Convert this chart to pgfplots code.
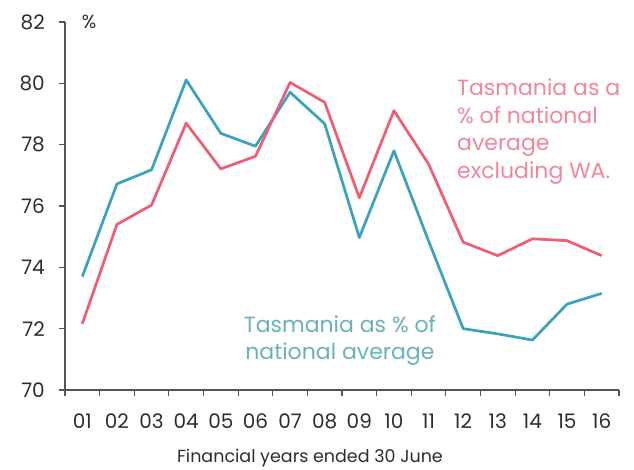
\documentclass[border=0pt]{standalone}
\usepackage{fontspec}
\setmainfont{Poppins}
\usepackage{pgfplots}
\pgfplotsset{compat=1.18}
\definecolor{tasred}{RGB}{240,92,115}
\definecolor{tasblue}{RGB}{58,162,190}
\definecolor{labred}{RGB}{240,135,155}
\definecolor{labblue}{RGB}{105,178,185}
\definecolor{axgray}{RGB}{85,85,85}
\definecolor{txtgray}{RGB}{45,45,45}
\pgfplotstableread{
x nat exwa
1 73.70 72.16
2 76.72 75.40
3 77.18 76.03
4 80.11 78.70
5 78.37 77.21
6 77.95 77.62
7 79.71 80.03
8 78.68 79.38
9 74.97 76.27
10 77.80 79.11
11 74.86 77.37
12 72.00 74.82
13 71.83 74.38
14 71.63 74.93
15 72.80 74.87
16 73.15 74.38
}\datatable
\begin{document}
\begin{tikzpicture}
\path[use as bounding box] (-65pt,-79pt) rectangle (569pt,390pt);
\begin{axis}[
  at={(0pt,0pt)}, anchor=south west,
  scale only axis,
  width=554pt, height=368pt,
  xmin=0.5, xmax=16.5,
  ymin=70, ymax=82,
  axis x line=bottom, axis y line=left,
  axis line style={-, axgray, line width=1.1pt},
  every tick/.style={axgray, line width=1.2pt},
  xtick pos=bottom, ytick pos=left,
  xtick align=outside, ytick align=outside,
  major tick length=6pt,
  xtick={0.5,1.5,...,16.5},
  xticklabels={},
  extra x ticks={1,2,...,16},
  extra x tick labels={01,02,03,04,05,06,07,08,09,10,11,12,13,14,15,16},
  extra x tick style={major tick length=0pt, xticklabel style={inner sep=0pt, yshift=-24pt}},
  ytick={70,72,...,82},
  /pgf/number format/assume math mode=true,
  ticklabel style={font=\fontsize{20}{24}\selectfont, text=txtgray},
  yticklabel style={inner sep=0pt, xshift=-14pt},
  xlabel={Financial years ended 30 June},
  xlabel style={font=\fontsize{17.5}{21}\selectfont, text=txtgray, inner sep=0pt, yshift=-14pt, xshift=-32pt},
  clip=false,
]
\addplot[tasblue, line width=2.7pt, line join=round] table[x=x, y=nat] {\datatable};
\addplot[tasred, line width=2.7pt, line join=round] table[x=x, y=exwa] {\datatable};
\node[anchor=west, inner sep=0pt, font=\fontsize{19}{22}\selectfont, text=txtgray] at (rel axis cs:0.03,1) {\%};
\node[anchor=north west, inner sep=0pt, align=left, font=\fontsize{22}{27.5}\selectfont, text=labred]
  at (axis cs:11.82,80.15) {Tasmania as a\\\% of national\\average\\excluding WA.};
\node[anchor=north, inner sep=0pt, align=center, font=\fontsize{22}{27}\selectfont, text=labblue]
  at (axis cs:8.44,72.42) {Tasmania as \% of\\national average};
\end{axis}
\end{tikzpicture}
\end{document}
